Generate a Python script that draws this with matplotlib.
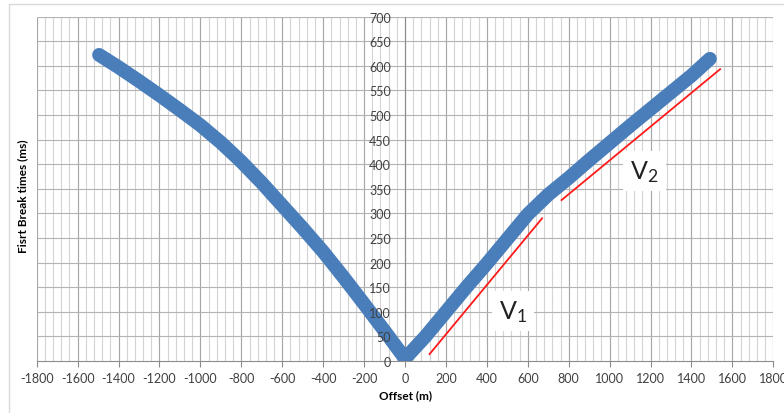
import matplotlib

matplotlib.use("Agg")
import matplotlib.pyplot as plt  # noqa: E402
import numpy as np  # noqa: E402
from matplotlib.patches import Rectangle  # noqa: E402
from matplotlib.ticker import MultipleLocator  # noqa: E402

# first-break picks (offset m, time ms)
offset = [-1495, -1400, -1300, -1200, -1100, -1000, -900, -800, -700, -600,
          -500, -400, -300, -200, -100, 0,
          100, 200, 300, 400, 500, 600, 700, 800, 900, 1000,
          1100, 1200, 1300, 1400, 1490]
fb_time = [622, 597, 569, 540, 510, 479, 444, 405, 362, 316,
           270, 222, 170, 116, 61, 5,
           50, 100, 150, 198, 248, 298, 338, 372, 408, 443,
           478, 512, 546, 580, 614]

# hand-drawn velocity guides
v1_x = [120, 670]
v1_y = [14, 290]
v2_x = [765, 1540]
v2_y = [327, 593]

labels = [r"$\mathregular{V_1}$", r"$\mathregular{V_2}$"]
label_x = [529, 1170]
label_y = [101, 386]

plt.rcParams["font.family"] = ["Lato", "DejaVu Sans"]
plt.rcParams["axes.unicode_minus"] = False
plt.rcParams["mathtext.fontset"] = "custom"
plt.rcParams["mathtext.rm"] = "Liberation Sans"

fig = plt.figure(figsize=(7.84, 4.14), dpi=100)
ax = fig.add_axes([0.0468, 0.1256, 0.9396, 0.8321])

# gridlines drawn under the data so tick labels can sit on top of the band
ax.vlines(np.arange(-1800, 1801, 40), 0, 700, color="#d4d4d4", lw=0.8, zorder=0)
ax.vlines(np.arange(-1800, 1801, 200), 0, 700, color="#a6a6a6", lw=0.8, zorder=0.5)
ax.hlines(np.arange(50, 701, 50), -1800, 1800, color="#b3b3b3", lw=0.8, zorder=0.5)

ax.plot(offset, fb_time, color="#4a7ebb", lw=10, solid_capstyle="round",
        solid_joinstyle="round", zorder=2)
ax.plot(v1_x, v1_y, color="#ff1a1a", lw=1.3, zorder=3)
ax.plot(v2_x, v2_y, color="#ff1a1a", lw=1.3, zorder=3)
for s, lx, ly in zip(labels, label_x, label_y):
    ax.text(lx, ly, s, fontsize=18, ha="center", va="center",
            color="#222222", zorder=4,
            bbox=dict(facecolor="white", edgecolor="none", pad=5))

ax.set_xlim(-1800, 1800)
ax.set_ylim(0, 700)
ax.xaxis.set_major_locator(MultipleLocator(200))
ax.yaxis.set_major_locator(MultipleLocator(50))
ax.set_axisbelow(False)

ax.spines["left"].set_position(("data", 0))
ax.spines["left"].set_color("#8c8c8c")
ax.spines["bottom"].set_color("#8c8c8c")
ax.spines["top"].set_visible(False)
ax.spines["right"].set_visible(False)
ax.spines["left"].set_zorder(1)

ax.tick_params(axis="x", which="major", length=4, color="#8c8c8c", labelsize=9,
               labelcolor="#404040", pad=4)
ax.tick_params(axis="y", length=0, labelsize=9, labelcolor="#404040", pad=10)

ax.set_xlabel("Offset (m)", fontsize=8.5, fontweight="bold", labelpad=4)
ax.set_ylabel("Fisrt Break times (ms)", fontsize=8.5, fontweight="bold")
ax.yaxis.set_label_coords(-0.011, 0.48)

fig.patches.append(Rectangle((9 / 784, -0.02), 1.0, 1 - 5 / 414 + 0.02,
                             transform=fig.transFigure, fill=False,
                             edgecolor="#d9d9d9", lw=1))

fig.savefig("out.png", dpi=100)
plt.close(fig)
